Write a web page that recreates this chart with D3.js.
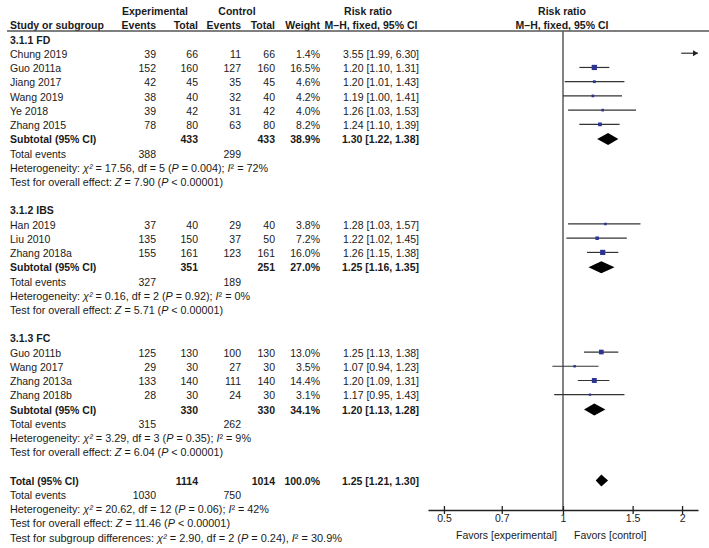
<!DOCTYPE html>
<html><head><meta charset="utf-8">
<script src="https://cdn.jsdelivr.net/npm/d3@7"></script>
<style>
html,body{margin:0;padding:0;background:#fff;}
svg{display:block;font-family:"Liberation Sans",Arial,sans-serif;}
</style></head>
<body>
<div id="chart"></div>
<script>
// ---- data ----
const groupLabels = ["3.1.1 FD", "3.1.2 IBS", "3.1.3 FC"];
const studyNames = ["Chung 2019","Guo 2011a","Jiang 2017","Wang 2019","Ye 2018","Zhang 2015",
  "Han 2019","Liu 2010","Zhang 2018a",
  "Guo 2011b","Wang 2017","Zhang 2013a","Zhang 2018b"];
const studyGroup = [0,0,0,0,0,0,1,1,1,2,2,2,2];
const expEvents  = [39,152,42,38,39,78,37,135,155,125,29,133,28];
const expTotal   = [66,160,45,40,42,80,40,150,161,130,30,140,30];
const ctrlEvents = [11,127,35,32,31,63,29,37,123,100,27,111,24];
const ctrlTotal  = [66,160,45,40,42,80,40,50,161,130,30,140,30];
const weights    = [1.4,16.5,4.6,4.2,4.0,8.2,3.8,7.2,16.0,13.0,3.5,14.4,3.1];
const riskRatio  = [3.55,1.20,1.20,1.19,1.26,1.24,1.28,1.22,1.26,1.25,1.07,1.20,1.17];
const ciLow      = [1.99,1.10,1.01,1.00,1.03,1.10,1.03,1.02,1.15,1.13,0.94,1.09,0.95];
const ciHigh     = [6.30,1.31,1.43,1.41,1.53,1.39,1.57,1.45,1.38,1.38,1.23,1.31,1.43];

const subExpTotal   = [433,351,330];
const subCtrlTotal  = [433,251,330];
const subWeight     = [38.9,27.0,34.1];
const subRR         = [1.30,1.25,1.20];
const subLow        = [1.22,1.16,1.13];
const subHigh       = [1.38,1.35,1.28];
const subExpEvents  = [388,327,315];
const subCtrlEvents = [299,189,262];
const subChi2       = ["17.56","0.16","3.29"];
const subDf         = [5,2,3];
const subP          = ["0.004","0.92","0.35"];
const subI2         = [72,0,9];
const subZ          = ["7.90","5.71","6.04"];

const totalExp = 1114, totalCtrl = 1014, totalWeight = "100.0%";
const totalRR = 1.25, totalLow = 1.21, totalHigh = 1.30;
const totalExpEvents = 1030, totalCtrlEvents = 750;
const totalChi2 = "20.62", totalDf = 12, totalP = "0.06", totalI2 = 42, totalZ = "11.46";
const subgroupChi2 = "2.90", subgroupDf = 2, subgroupP = "0.24", subgroupI2 = "30.9";

const tickValues = [0.5, 0.7, 1, 1.5, 2];
const tickLabels = ["0.5", "0.7", "1", "1.5", "2"];
const favorsLabels = ["Favors [experimental]", "Favors [control]"];

// ---- layout ----
const W = 709, H = 548;
const FS = 10.5;
const svg = d3.select("#chart").append("svg").attr("width", W).attr("height", H);

const y = d3.scaleLinear().domain([0, 35]).range([40, 538]);
const ext = 0.786;
const x = d3.scaleLog().domain([Math.exp(-ext), Math.exp(ext)]).range([428, 698]);

const col = { name: 10, expEv: 156, expTot: 198, ctrlEv: 241, ctrlTot: 275, weight: 320, rr: 419 };
const textColor = "#1a1a1a";

// measured widths of statistic lines in the reference
const hetLen = [258, 240, 241], testLen = [213, 213, 213];
const totHetLen = 259, totTestLen = 220, subgroupLen = 332;

function txt(xp, yp, s, opts = {}) {
  return svg.append("text")
    .attr("x", xp).attr("y", yp).attr("dy", "0.35em")
    .attr("text-anchor", opts.anchor || "start")
    .attr("font-size", opts.size || FS)
    .attr("font-weight", opts.bold ? "bold" : "normal")
    .attr("fill", textColor)
    .text(s);
}
function rich(xp, yp, segs, len) {
  const t = svg.append("text").attr("x", xp).attr("y", yp).attr("dy", "0.35em")
    .attr("font-size", FS).attr("fill", textColor);
  segs.forEach(s => {
    t.append("tspan").attr("font-style", s[1] ? "italic" : "normal").text(s[0]);
  });
  if (len) t.attr("textLength", len).attr("lengthAdjust", "spacingAndGlyphs");
  return t;
}
const fmt2 = d3.format(".2f");
const ciText = (r, l, h) => `${fmt2(r)} [${fmt2(l)}, ${fmt2(h)}]`;

// headers
txt(155, 11, "Experimental", { anchor: "middle", bold: true });
txt(237, 11, "Control", { anchor: "middle", bold: true });
txt(368, 11, "Risk ratio", { anchor: "middle", bold: true });
txt(562, 11, "Risk ratio", { anchor: "middle", bold: true });
txt(col.name, 25, "Study or subgroup", { bold: true });
txt(col.expEv, 25, "Events", { anchor: "end", bold: true });
txt(col.expTot, 25, "Total", { anchor: "end", bold: true });
txt(col.ctrlEv, 25, "Events", { anchor: "end", bold: true });
txt(col.ctrlTot, 25, "Total", { anchor: "end", bold: true });
txt(col.weight, 25, "Weight", { anchor: "end", bold: true });
txt(371, 25, "M–H, fixed, 95% CI", { anchor: "middle", bold: true });
txt(562, 25, "M–H, fixed, 95% CI", { anchor: "middle", bold: true });

svg.append("line").attr("x1", 7).attr("x2", W).attr("y1", 31).attr("y2", 31)
  .attr("stroke", "#555").attr("stroke-width", 1.5);

// vertical null line
svg.append("line").attr("x1", x(1)).attr("x2", x(1)).attr("y1", 31).attr("y2", 510)
  .attr("stroke", "#5a5a5a").attr("stroke-width", 1.5);

const markColor = "#2b3590";
let row = 0;
function diamond(r, l, h, yy) {
  const pts = [[x(l), yy], [x(r), yy - 6], [x(h), yy], [x(r), yy + 6]];
  svg.append("path").attr("d", d3.line()(pts) + "Z").attr("fill", "#000");
}

groupLabels.forEach((g, gi) => {
  txt(col.name, y(row), g, { bold: true });
  row++;
  studyNames.forEach((nm, i) => {
    if (studyGroup[i] !== gi) return;
    const yy = y(row);
    txt(col.name, yy, nm);
    txt(col.expEv, yy, expEvents[i], { anchor: "end" });
    txt(col.expTot, yy, expTotal[i], { anchor: "end" });
    txt(col.ctrlEv, yy, ctrlEvents[i], { anchor: "end" });
    txt(col.ctrlTot, yy, ctrlTotal[i], { anchor: "end" });
    txt(col.weight, yy, weights[i].toFixed(1) + "%", { anchor: "end" });
    txt(col.rr, yy, ciText(riskRatio[i], ciLow[i], ciHigh[i]), { anchor: "end" });
    const [dMin, dMax] = x.domain();
    const ly = yy - 1;
    const lx1 = x(Math.max(ciLow[i], dMin)), lx2 = x(Math.min(ciHigh[i], dMax));
    svg.append("line").attr("x1", lx1).attr("x2", lx2).attr("y1", ly).attr("y2", ly)
      .attr("stroke", "#333").attr("stroke-width", 1.2);
    if (ciHigh[i] > dMax) {
      svg.append("path").attr("d", d3.line()([[lx2, ly], [lx2 - 5, ly - 3], [lx2 - 5, ly + 3]]) + "Z")
        .attr("fill", "#222");
    }
    if (riskRatio[i] >= dMin && riskRatio[i] <= dMax) {
      const s = Math.max(2, 1.3 * Math.sqrt(weights[i]));
      svg.append("rect").attr("x", x(riskRatio[i]) - s / 2).attr("y", ly - s / 2)
        .attr("width", s).attr("height", s).attr("fill", markColor);
    }
    row++;
  });
  let yy = y(row);
  txt(col.name, yy, "Subtotal (95% CI)", { bold: true });
  txt(col.expTot, yy, subExpTotal[gi], { anchor: "end", bold: true });
  txt(col.ctrlTot, yy, subCtrlTotal[gi], { anchor: "end", bold: true });
  txt(col.weight, yy, subWeight[gi].toFixed(1) + "%", { anchor: "end", bold: true });
  txt(col.rr, yy, ciText(subRR[gi], subLow[gi], subHigh[gi]), { anchor: "end", bold: true });
  diamond(subRR[gi], subLow[gi], subHigh[gi], yy - 0.5);
  row++;
  yy = y(row);
  txt(col.name, yy, "Total events");
  txt(col.expEv, yy, subExpEvents[gi], { anchor: "end" });
  txt(col.ctrlEv, yy, subCtrlEvents[gi], { anchor: "end" });
  row++;
  rich(col.name, y(row), [["Heterogeneity: "], ["χ²", 1], [` = ${subChi2[gi]}, df = ${subDf[gi]} (`], ["P", 1],
    [` = ${subP[gi]}); `], ["I", 1], [`² = ${subI2[gi]}%`]], hetLen[gi]);
  row++;
  rich(col.name, y(row), [["Test for overall effect: "], ["Z", 1], [` = ${subZ[gi]} (`], ["P", 1], [" < 0.00001)"]], testLen[gi]);
  row += 2;
});

// overall
let yy = y(row);
txt(col.name, yy, "Total (95% CI)", { bold: true });
txt(col.expTot, yy, totalExp, { anchor: "end", bold: true });
txt(col.ctrlTot, yy, totalCtrl, { anchor: "end", bold: true });
txt(col.weight, yy, totalWeight, { anchor: "end", bold: true });
txt(col.rr, yy, ciText(totalRR, totalLow, totalHigh), { anchor: "end", bold: true });
diamond(totalRR, totalLow, totalHigh, yy - 0.5);
row++;
yy = y(row);
txt(col.name, yy, "Total events");
txt(col.expEv, yy, totalExpEvents, { anchor: "end" });
txt(col.ctrlEv, yy, totalCtrlEvents, { anchor: "end" });
row++;
rich(col.name, y(row), [["Heterogeneity: "], ["χ²", 1], [` = ${totalChi2}, df = ${totalDf} (`], ["P", 1],
  [` = ${totalP}); `], ["I", 1], [`² = ${totalI2}%`]], totHetLen);
row++;
rich(col.name, y(row), [["Test for overall effect: "], ["Z", 1], [` = ${totalZ} (`], ["P", 1], [" < 0.00001)"]], totTestLen);
row++;
rich(col.name, y(row), [["Test for subgroup differences: "], ["χ²", 1], [` = ${subgroupChi2}, df = ${subgroupDf} (`], ["P", 1],
  [` = ${subgroupP}), `], ["I", 1], [`² = ${subgroupI2}%`]], subgroupLen);

// axis
const axisY = 510;
const axis = d3.axisBottom(x).tickValues(tickValues).tickFormat((d, i) => tickLabels[i]).tickSize(4).tickSizeOuter(0);
const ag = svg.append("g").attr("transform", `translate(0,${axisY})`).call(axis);
ag.select(".domain").attr("stroke", "#222").attr("stroke-width", 1.3);
ag.selectAll(".tick line").attr("y1", -4).attr("stroke", "#222").attr("stroke-width", 1.3);
ag.selectAll(".tick text").attr("font-size", FS).attr("font-family", "Liberation Sans, Arial, sans-serif")
  .attr("fill", textColor).attr("y", 5);
txt(x(1) - 6, 535, favorsLabels[0], { anchor: "end" });
txt(x(1) + 11, 535, favorsLabels[1], { anchor: "start" });
</script>
</body></html>
